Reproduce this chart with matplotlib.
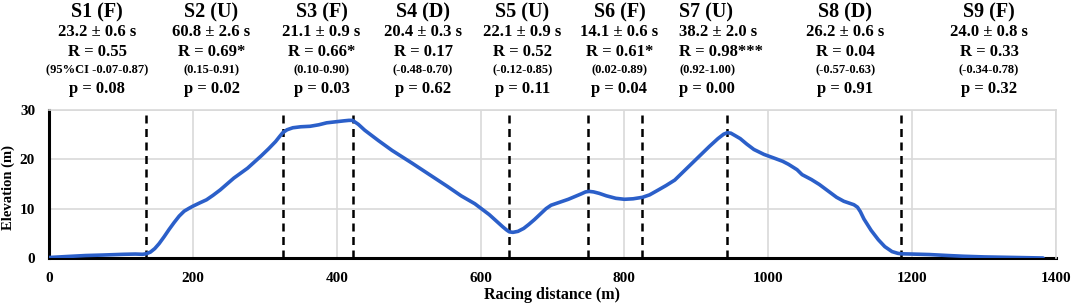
import matplotlib
matplotlib.use('Agg')
import matplotlib.pyplot as plt
from matplotlib.transforms import blended_transform_factory

# elevation profile
distance = [0, 25, 51, 75, 104, 120, 130, 135, 141, 147, 153, 160, 167, 174, 181, 188, 195, 200,
            210, 219, 228, 238, 257, 276, 295, 305, 315, 321, 325, 331, 339, 350, 363, 375,
            386, 398, 410, 417, 422, 430, 439, 458, 477, 505, 530, 554, 573, 592, 612, 631,
            636, 640, 645, 652, 660, 667, 675, 683, 691, 698, 710, 722, 740, 746, 751, 757,
            765, 775, 788, 800, 812, 825, 835, 846, 858, 870, 882, 894, 906, 918, 930, 938,
            943, 948, 954, 961, 970, 980, 994, 1009, 1020, 1028, 1040, 1047, 1060, 1071,
            1083, 1095, 1105, 1113, 1119, 1124, 1128, 1133, 1143, 1153, 1162, 1172, 1180,
            1185, 1200, 1224, 1250, 1272, 1300, 1334, 1360, 1382]
elevation = [0.1, 0.3, 0.5, 0.6, 0.75, 0.8, 0.75, 0.85, 1.2, 1.9, 2.9, 4.3, 5.8, 7.2, 8.5, 9.5, 10.1, 10.5,
             11.2, 11.8, 12.7, 13.8, 16.2, 18.2, 20.7, 22.1, 23.6, 24.7, 25.4, 26.0, 26.4, 26.6, 26.7, 27.0,
             27.4, 27.6, 27.8, 27.9, 27.9, 27.1, 25.9, 23.8, 21.8, 19.2, 16.8, 14.5, 12.6, 11.0, 8.8, 6.3,
             5.7, 5.3, 5.2, 5.4, 6.0, 6.8, 7.8, 8.9, 10.0, 10.7, 11.3, 11.9, 13.0, 13.4, 13.5, 13.4,
             13.1, 12.6, 12.1, 11.9, 12.0, 12.3, 12.8, 13.7, 14.7, 15.8, 17.5, 19.2, 20.9, 22.6, 24.2, 25.1,
             25.4, 25.3, 24.8, 24.2, 23.1, 22.0, 21.0, 20.2, 19.6, 19.0, 17.9, 16.9, 15.9, 14.9,
             13.6, 12.3, 11.5, 11.1, 10.8, 10.3, 9.4, 7.9, 5.6, 3.7, 2.3, 1.3, 0.95,
             0.85, 0.8, 0.7, 0.5, 0.35, 0.22, 0.13, 0.06, 0.0]

# segment boundaries (dashed lines)
boundaries = [135, 325, 422, 640, 750, 825, 943, 1185]

# segment annotations
seg_names = ['S1 (F)', 'S2 (U)', 'S3 (F)', 'S4 (D)', 'S5 (U)', 'S6 (F)', 'S7 (U)', 'S8 (D)', 'S9 (F)']
seg_times = ['23.2 ± 0.6 s', '60.8 ± 2.6 s', '21.1 ± 0.9 s', '20.4 ± 0.3 s', '22.1 ± 0.9 s',
             '14.1 ± 0.6 s', '38.2 ± 2.0 s', '26.2 ± 0.6 s', '24.0 ± 0.8 s']
seg_r = ['R = 0.55', 'R = 0.69*', 'R = 0.66*', 'R = 0.17', 'R = 0.52',
         'R = 0.61*', 'R = 0.98***', 'R = 0.04', 'R = 0.33']
seg_ci = ['(95%CI -0.07-0.87)', '(0.15-0.91)', '(0.10-0.90)', '(-0.48-0.70)', '(-0.12-0.85)',
          '(0.02-0.89)', '(0.92-1.00)', '(-0.57-0.63)', '(-0.34-0.78)']
seg_p = ['p = 0.08', 'p = 0.02', 'p = 0.03', 'p = 0.62', 'p = 0.11',
         'p = 0.04', 'p = 0.00', 'p = 0.91', 'p = 0.32']
# S7 block is left aligned in the original, others centred
label_x = [67, 226, 379, 520, 658, 793, 876, 1107, 1307]
label_ha = ['center'] * 6 + ['left'] + ['center'] * 2

plt.rcParams['font.family'] = ['Liberation Serif', 'DejaVu Serif']
plt.rcParams['font.weight'] = 'bold'

fig = plt.figure(figsize=(10.74, 3.04), dpi=100)
ax = fig.add_axes([49 / 1074, 1 - 258 / 304, (1056 - 49) / 1074, (258 - 110) / 304])

ax.set_xlim(0, 1400)
ax.set_ylim(0, 30)
ax.set_xticks(range(0, 1401, 200))
ax.set_yticks([0, 10, 20, 30])
ax.grid(True, color='#d9d9d9', linewidth=1.2)
ax.set_axisbelow(True)

for side in ['top', 'right']:
    ax.spines[side].set_color('#d9d9d9')
    ax.spines[side].set_linewidth(1.2)
for side in ['bottom', 'left']:
    ax.spines[side].set_color('black')
    ax.spines[side].set_linewidth(2.2)
    ax.spines[side].set_zorder(1.5)

ax.tick_params(length=0, labelsize=11, pad=10)
for lab in ax.get_xticklabels() + ax.get_yticklabels():
    lab.set_fontweight('bold')

for b in boundaries:
    ax.axvline(b, color='black', linestyle=(0, (3.2, 2.2)), linewidth=1.8, zorder=2)

ax.plot(distance, elevation, color='#2b5fc9', linewidth=2.6, solid_capstyle='round',
        solid_joinstyle='round', zorder=3)

ax.set_xlabel('Racing distance (m)', fontsize=11.5, fontweight='bold')
ax.xaxis.set_label_coords(0.5, -(287 - 258) / 148)
ax.set_ylabel('Elevation (m)', fontsize=10.5, fontweight='bold')
ax.yaxis.set_label_coords(-(49 - 15) / 1007, (258 - 187) / 148)

trans = blended_transform_factory(ax.transData, fig.transFigure)
rows = [(seg_names, 14.5, 12.3), (seg_times, 12, 32.3), (seg_r, 12, 52.3),
        (seg_ci, 9, 70.7), (seg_p, 12, 89.3)]
for texts, size, ypix in rows:
    for x, ha, t in zip(label_x, label_ha, texts):
        ax.text(x, 1 - ypix / 304, t, transform=trans, ha=ha, va='center',
                fontsize=size, fontweight='bold', clip_on=False)

fig.savefig('out.png', dpi=100)
